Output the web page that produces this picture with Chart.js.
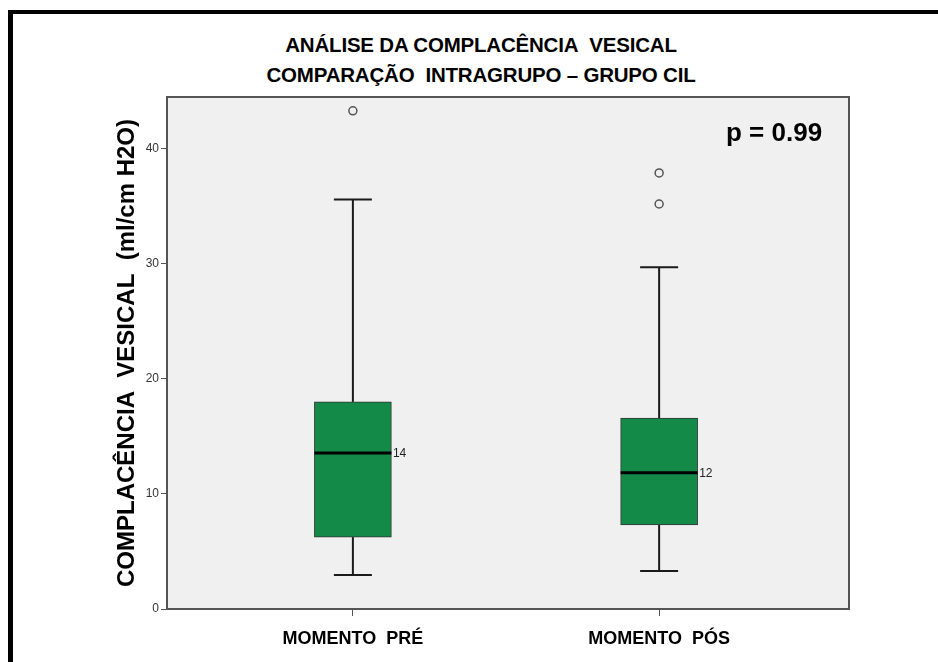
<!DOCTYPE html>
<html>
<head>
<meta charset="utf-8">
<script src="https://cdn.jsdelivr.net/npm/chart.js@4.4.0/dist/chart.umd.min.js"></script>
<style>
  body { margin: 0; background: #fff; width: 938px; height: 662px; overflow: hidden; position: relative; }
  .frame { position: absolute; left: 8px; top: 10px; right: 0; bottom: 0; border-top: 4px solid #000; border-left: 5px solid #000; }
  .title { position: absolute; left: 0; width: 962px; top: 30px; text-align: center;
    font-family: "Liberation Sans", Arial, sans-serif; font-weight: bold;
    font-size: 20.5px; line-height: 30px; color: #000; letter-spacing: -0.2px; }
  .pval { position: absolute; left: 726px; top: 117px; z-index: 2; font-family: "Liberation Sans", Arial, sans-serif;
    font-weight: bold; font-size: 26px; color: #000; }
  canvas { position: absolute; left: 0; top: 0; z-index: 1; }
</style>
</head>
<body>
<div class="frame"></div>
<div class="title">ANÁLISE DA COMPLACÊNCIA&nbsp; VESICAL<br>COMPARAÇÃO&nbsp; INTRAGRUPO – GRUPO CIL</div>
<div class="pval">p = 0.99</div>
<canvas id="chart" width="938" height="662"></canvas>
<script>
// Boxplot data
const groups = ['MOMENTO  PRÉ', 'MOMENTO  PÓS'];
const whiskerLow = [2.95, 3.3];
const q1 = [6.25, 7.3];
const median = [13.55, 11.85];
const q3 = [18.0, 16.6];
const whiskerHigh = [35.6, 29.7];
const medianLabels = ['14', '12'];
const outliers = [[43.3], [37.9, 35.2]];
const yTicks = [0, 10, 20, 30, 40];

const outlierPoints = [];
outliers.forEach((list, i) => list.forEach(v => outlierPoints.push({ x: i + 1, y: v })));

// whiskers, caps, median line and label drawn via scales
const boxPlugin = {
  id: 'boxParts',
  beforeDraw(chart) {
    const a = chart.chartArea;
    chart.ctx.save();
    chart.ctx.fillStyle = '#f0f0f0';
    chart.ctx.fillRect(a.left, a.top, a.right - a.left, a.bottom - a.top);
    chart.ctx.restore();
  },
  beforeDatasetsDraw(chart) {
    const ctx = chart.ctx;
    const xs = chart.scales.x, ys = chart.scales.y;
    ctx.save();
    ctx.strokeStyle = '#1a1a1a';
    ctx.lineWidth = 2;
    groups.forEach((g, i) => {
      const x = xs.getPixelForValue(i + 1);
      const half = 19;
      [[q3[i], whiskerHigh[i]], [q1[i], whiskerLow[i]]].forEach(([a, b]) => {
        ctx.beginPath();
        ctx.moveTo(x, ys.getPixelForValue(a));
        ctx.lineTo(x, ys.getPixelForValue(b));
        ctx.stroke();
        ctx.beginPath();
        ctx.moveTo(x - half, ys.getPixelForValue(b));
        ctx.lineTo(x + half, ys.getPixelForValue(b));
        ctx.stroke();
      });
    });
    ctx.restore();
  },
  afterDatasetsDraw(chart) {
    const ctx = chart.ctx;
    const xs = chart.scales.x, ys = chart.scales.y;
    ctx.save();
    groups.forEach((g, i) => {
      const x = xs.getPixelForValue(i + 1);
      const y = ys.getPixelForValue(median[i]);
      ctx.strokeStyle = '#000';
      ctx.lineWidth = 3;
      ctx.beginPath();
      ctx.moveTo(x - 38.5, y);
      ctx.lineTo(x + 38.5, y);
      ctx.stroke();
      ctx.fillStyle = '#222';
      ctx.font = '12px "Liberation Sans", Arial, sans-serif';
      ctx.textBaseline = 'middle';
      ctx.fillText(medianLabels[i], x + 40, y + 1);
    });
    // plot border
    const a = chart.chartArea;
    ctx.strokeStyle = '#555';
    ctx.lineWidth = 2;
    ctx.strokeRect(a.left, a.top, a.right - a.left, a.bottom - a.top);
    ctx.restore();
  }
};

new Chart(document.getElementById('chart'), {
  data: {
    datasets: [{
      type: 'bar',
      data: groups.map((g, i) => ({ x: i + 1, y: [q1[i], q3[i]] })),
      backgroundColor: '#138a47',
      borderColor: '#333',
      borderWidth: 1,
      borderSkipped: false,
      barThickness: 77
    }, {
      type: 'scatter',
      data: outlierPoints,
      pointRadius: 4,
      pointBackgroundColor: '#f0f0f0',
      pointBorderColor: '#555',
      pointBorderWidth: 1.5
    }]
  },
  options: {
    responsive: false,
    animation: false,
    layout: { padding: { top: 97, right: 89, left: 100, bottom: 0 } },
    plugins: { legend: { display: false }, tooltip: { enabled: false } },
    scales: {
      x: {
        type: 'linear',
        offset: false,
        min: 0.393,
        max: 2.62,
        afterBuildTicks: s => { s.ticks = [{ value: 1 }, { value: 2 }]; },
        afterFit: s => { s.height = 53; },
        ticks: {
          callback: v => groups[v - 1],
          color: '#000',
          font: { family: '"Liberation Sans", Arial, sans-serif', weight: 'bold', size: 18 },
          padding: 12,
          maxRotation: 0
        },
        grid: { drawOnChartArea: false, offset: false, tickLength: 7, color: '#555' },
        border: { display: false }
      },
      y: {
        min: 0,
        max: 44.5,
        afterBuildTicks: s => { s.ticks = yTicks.map(v => ({ value: v })); },
        afterFit: s => { s.width = 67; },
        ticks: {
          color: '#333',
          font: { family: '"Liberation Sans", Arial, sans-serif', size: 12 },
          padding: 2
        },
        grid: { drawOnChartArea: false, tickLength: 6, color: '#555' },
        border: { display: false },
        title: {
          display: true,
          text: 'COMPLACÊNCIA  VESICAL  (ml/cm H2O)',
          color: '#000',
          font: { family: '"Liberation Sans", Arial, sans-serif', weight: 'bold', size: 24 },
          padding: { top: 13, bottom: 0 }
        }
      }
    }
  },
  plugins: [boxPlugin]
});
</script>
</body>
</html>
